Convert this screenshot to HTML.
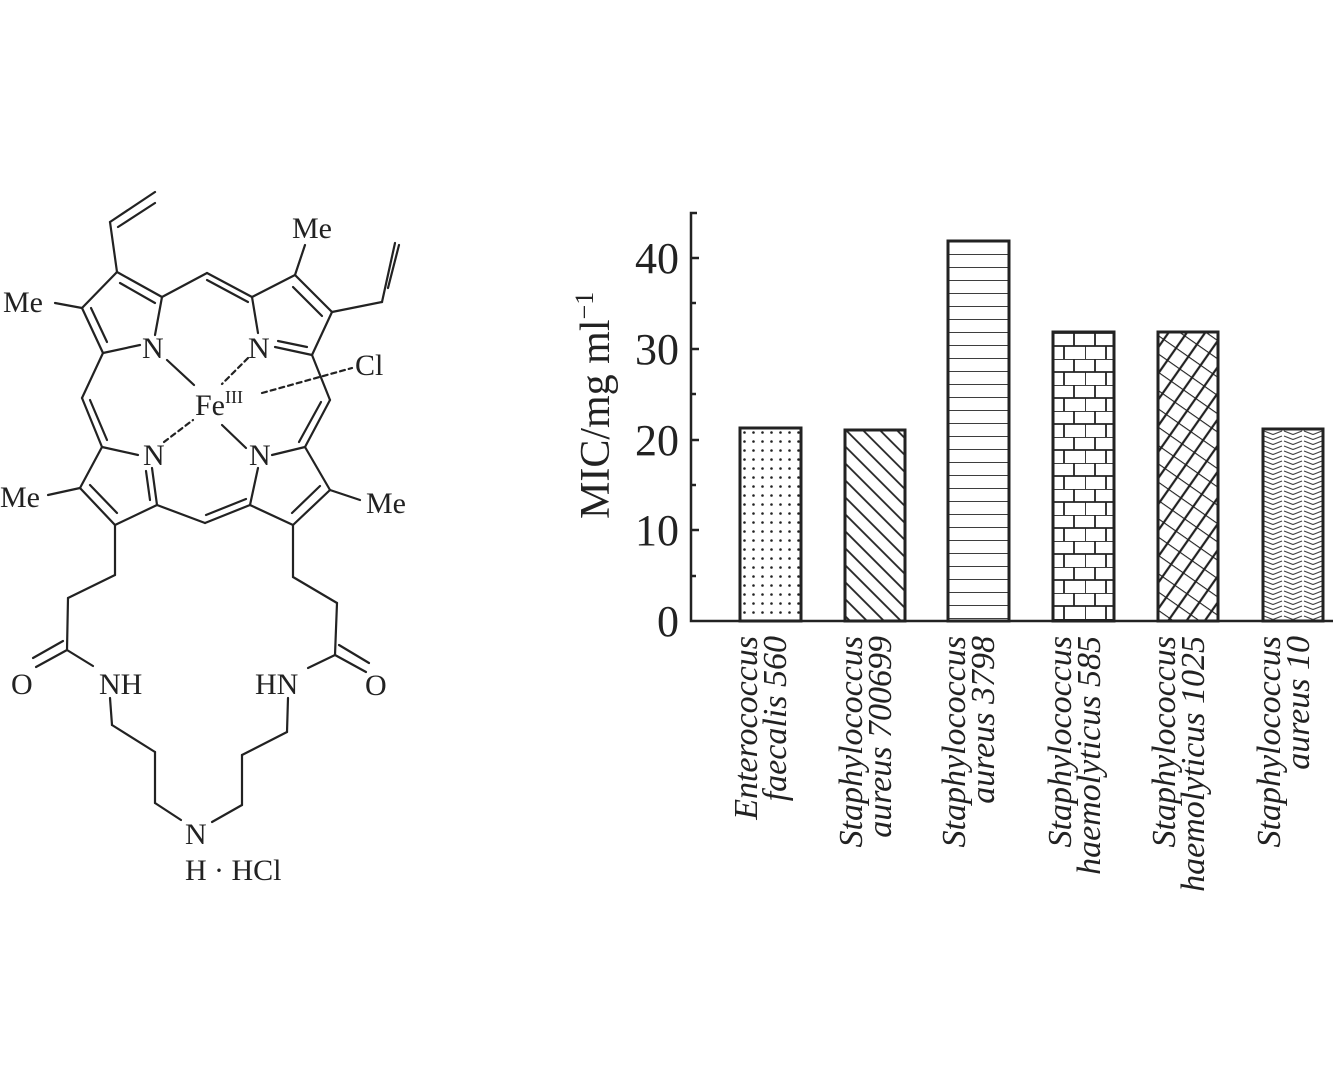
<!DOCTYPE html>
<html><head><meta charset="utf-8"><style>
html,body{margin:0;padding:0;background:#fff;}
svg{display:block;}
text{font-family:"Liberation Serif",serif;fill:#222;}
</style></head><body>
<svg width="1333" height="1085" viewBox="0 0 1333 1085" xmlns="http://www.w3.org/2000/svg">
<defs>
<pattern id="dots" width="9" height="9" patternUnits="userSpaceOnUse" x="740" y="428">
<circle cx="4.5" cy="4.5" r="1.3" fill="#222"/>
</pattern>
<pattern id="diag" width="12" height="12" patternUnits="userSpaceOnUse" patternTransform="rotate(45)">
<line x1="0" y1="6" x2="12" y2="6" stroke="#222" stroke-width="1.8"/>
</pattern>
<pattern id="horiz" width="20" height="13" patternUnits="userSpaceOnUse" x="0" y="241">
<line x1="0" y1="0" x2="20" y2="0" stroke="#222" stroke-width="1.8"/>
</pattern>
<pattern id="brick" width="42" height="26" patternUnits="userSpaceOnUse" x="1043" y="333">
<line x1="0" y1="0" x2="42" y2="0" stroke="#222" stroke-width="1.8"/>
<line x1="0" y1="13" x2="42" y2="13" stroke="#222" stroke-width="1.8"/>
<line x1="10" y1="0" x2="10" y2="13" stroke="#222" stroke-width="1.8"/>
<line x1="31" y1="0" x2="31" y2="13" stroke="#222" stroke-width="1.8"/>
<line x1="0" y1="13" x2="0" y2="26" stroke="#222" stroke-width="1.8"/>
<line x1="21" y1="13" x2="21" y2="26" stroke="#222" stroke-width="1.8"/>
</pattern>
<pattern id="weave" width="30" height="15" patternUnits="userSpaceOnUse" patternTransform="rotate(35)">
<line x1="0" y1="0" x2="30" y2="0" stroke="#222" stroke-width="2.2"/>
<line x1="8" y1="0" x2="8" y2="15" stroke="#222" stroke-width="2.2"/>
<line x1="23" y1="0" x2="23" y2="15" stroke="#222" stroke-width="2.2"/>
</pattern>
<pattern id="chev" width="20" height="5" patternUnits="userSpaceOnUse" x="1263" y="430">
<polyline points="1,1 10,4.5 19,1" fill="none" stroke="#444" stroke-width="1.2"/>
</pattern>
</defs>

<g stroke="#222" stroke-width="2.2" fill="none" stroke-linecap="round">
<line x1="117" y1="272" x2="162" y2="297"/>
<line x1="120" y1="283" x2="155" y2="303"/>
<line x1="162" y1="297" x2="155" y2="335"/>
<line x1="140" y1="345" x2="103" y2="353"/>
<line x1="103" y1="353" x2="82" y2="308"/>
<line x1="107" y1="342" x2="91" y2="308"/>
<line x1="82" y1="308" x2="117" y2="272"/>
<line x1="117" y1="272" x2="110" y2="222"/>
<line x1="110" y1="222" x2="155" y2="192"/>
<line x1="118" y1="227" x2="155" y2="203"/>
<line x1="82" y1="308" x2="55" y2="303"/>
<line x1="162" y1="297" x2="207" y2="273"/>
<line x1="207" y1="273" x2="252" y2="297"/>
<line x1="207" y1="280" x2="248" y2="302"/>
<line x1="252" y1="297" x2="295" y2="275"/>
<line x1="295" y1="275" x2="332" y2="312"/>
<line x1="293" y1="287" x2="322" y2="316"/>
<line x1="332" y1="312" x2="312" y2="355"/>
<line x1="312" y1="355" x2="275" y2="347"/>
<line x1="307" y1="347" x2="278" y2="341"/>
<line x1="252" y1="297" x2="258" y2="333"/>
<line x1="295" y1="275" x2="305" y2="245"/>
<line x1="332" y1="312" x2="382" y2="302"/>
<line x1="382" y1="302" x2="395" y2="243"/>
<line x1="388" y1="288" x2="399" y2="245"/>
<line x1="312" y1="355" x2="330" y2="400"/>
<line x1="330" y1="400" x2="305" y2="447"/>
<line x1="321" y1="402" x2="299" y2="442"/>
<line x1="305" y1="447" x2="272" y2="455"/>
<line x1="258" y1="468" x2="250" y2="505"/>
<line x1="250" y1="505" x2="293" y2="525"/>
<line x1="293" y1="525" x2="330" y2="490"/>
<line x1="292" y1="513" x2="320" y2="486"/>
<line x1="330" y1="490" x2="305" y2="447"/>
<line x1="330" y1="490" x2="360" y2="500"/>
<line x1="157" y1="505" x2="205" y2="523"/>
<line x1="205" y1="523" x2="250" y2="505"/>
<line x1="206" y1="515" x2="246" y2="499"/>
<line x1="102" y1="447" x2="138" y2="455"/>
<line x1="152" y1="468" x2="157" y2="505"/>
<line x1="146" y1="471" x2="150" y2="500"/>
<line x1="157" y1="505" x2="115" y2="525"/>
<line x1="115" y1="525" x2="80" y2="488"/>
<line x1="117" y1="513" x2="90" y2="485"/>
<line x1="80" y1="488" x2="102" y2="447"/>
<line x1="80" y1="488" x2="48" y2="495"/>
<line x1="103" y1="353" x2="82" y2="398"/>
<line x1="82" y1="398" x2="102" y2="447"/>
<line x1="90" y1="400" x2="107" y2="440"/>
<line x1="167" y1="360" x2="194" y2="385"/>
<line x1="222" y1="425" x2="246" y2="448"/>
<line x1="248" y1="358" x2="222" y2="384" stroke-dasharray="5,4"/>
<line x1="164" y1="442" x2="193" y2="420" stroke-dasharray="5,4"/>
<line x1="262" y1="393" x2="352" y2="368" stroke-dasharray="5,4"/>
<line x1="115" y1="525" x2="115" y2="575"/>
<line x1="115" y1="575" x2="68" y2="598"/>
<line x1="68" y1="598" x2="67" y2="650"/>
<line x1="67" y1="650" x2="36" y2="667"/>
<line x1="63" y1="641" x2="33" y2="658"/>
<line x1="67" y1="650" x2="93" y2="666"/>
<line x1="110" y1="698" x2="112" y2="725"/>
<line x1="112" y1="725" x2="155" y2="752"/>
<line x1="155" y1="752" x2="155" y2="803"/>
<line x1="155" y1="803" x2="181" y2="820"/>
<line x1="293" y1="525" x2="293" y2="577"/>
<line x1="293" y1="577" x2="337" y2="603"/>
<line x1="337" y1="603" x2="335" y2="655"/>
<line x1="335" y1="655" x2="366" y2="672"/>
<line x1="339" y1="645" x2="369" y2="663"/>
<line x1="335" y1="655" x2="308" y2="668"/>
<line x1="288" y1="698" x2="287" y2="732"/>
<line x1="287" y1="732" x2="242" y2="755"/>
<line x1="242" y1="755" x2="242" y2="805"/>
<line x1="242" y1="805" x2="212" y2="822"/>
</g>
<g font-size="30">
<text x="142" y="358">N</text>
<text x="248" y="358">N</text>
<text x="143" y="465">N</text>
<text x="249" y="465">N</text>
<text x="195" y="415">Fe<tspan font-size="18" dy="-12">III</tspan></text>
<text x="355" y="375">Cl</text>
<text x="292" y="238">Me</text>
<text x="3" y="312">Me</text>
<text x="0" y="507">Me</text>
<text x="366" y="513">Me</text>
<text x="11" y="694">O</text>
<text x="99" y="694">NH</text>
<text x="255" y="694">HN</text>
<text x="365" y="695">O</text>
<text x="185" y="844">N</text>
<text x="185" y="880">H</text>
<text x="214" y="880">· HCl</text>
</g>

<rect x="740" y="428" width="61" height="193" fill="url(#dots)" stroke="#222" stroke-width="3"/>
<rect x="845" y="430" width="60" height="191" fill="url(#diag)" stroke="#222" stroke-width="3"/>
<rect x="948" y="241" width="61" height="380" fill="url(#horiz)" stroke="#222" stroke-width="3"/>
<rect x="1053" y="332" width="61" height="289" fill="url(#brick)" stroke="#222" stroke-width="3"/>
<rect x="1158" y="332" width="60" height="289" fill="url(#weave)" stroke="#222" stroke-width="3"/>
<rect x="1263" y="429" width="60" height="192" fill="url(#chev)" stroke="#222" stroke-width="3"/>

<g stroke="#222" stroke-width="2.5" fill="none">
<polyline points="697,213 691,213 691,621 1333,621"/>
<line x1="691" y1="258" x2="699" y2="258"/>
<line x1="691" y1="349" x2="699" y2="349"/>
<line x1="691" y1="440" x2="699" y2="440"/>
<line x1="691" y1="530" x2="699" y2="530"/>
<line x1="691" y1="303" x2="696" y2="303"/>
<line x1="691" y1="394" x2="696" y2="394"/>
<line x1="691" y1="485" x2="696" y2="485"/>
<line x1="691" y1="576" x2="696" y2="576"/>
</g>
<g font-size="44" text-anchor="end">
<text x="679" y="273">40</text>
<text x="679" y="364">30</text>
<text x="679" y="455">20</text>
<text x="679" y="545">10</text>
<text x="679" y="636">0</text>
</g>
<text transform="translate(609,519) rotate(-90)" font-size="42">MIC/mg ml<tspan font-size="26" dy="-16">−1</tspan></text>

<g font-size="34" font-style="italic" text-anchor="end">
<text transform="translate(757,636) rotate(-90)">Enterococcus</text>
<text transform="translate(786,636) rotate(-90)">faecalis 560</text>
<text transform="translate(862,636) rotate(-90)">Staphylococcus</text>
<text transform="translate(891,636) rotate(-90)">aureus 700699</text>
<text transform="translate(965,636) rotate(-90)">Staphylococcus</text>
<text transform="translate(994,636) rotate(-90)">aureus 3798</text>
<text transform="translate(1071,636) rotate(-90)">Staphylococcus</text>
<text transform="translate(1100,636) rotate(-90)">haemolyticus 585</text>
<text transform="translate(1175,636) rotate(-90)">Staphylococcus</text>
<text transform="translate(1204,636) rotate(-90)">haemolyticus 1025</text>
<text transform="translate(1280,636) rotate(-90)">Staphylococcus</text>
<text transform="translate(1309,636) rotate(-90)">aureus 10</text>
</g>
</svg>
</body></html>
